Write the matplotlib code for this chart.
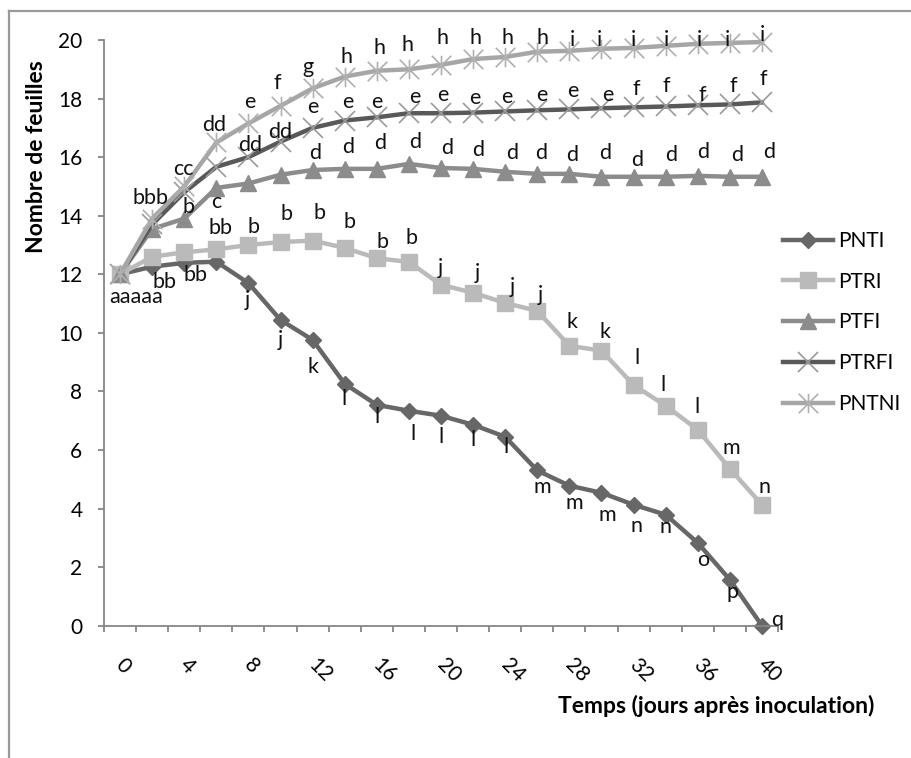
import numpy as np
import matplotlib
matplotlib.use('Agg')
import matplotlib.pyplot as plt
from matplotlib.lines import Line2D
from matplotlib.path import Path

plt.rcParams['font.family'] = ['Lato', 'DejaVu Sans']

# days after inoculation (one category every 2 days, label every 4)
days = list(range(0, 41, 2))
tick_days = days[::2]

series_names = ['PNTI', 'PTRI', 'PTFI', 'PTRFI', 'PNTNI']

pnti = [12, 12.26, 12.39, 12.43, 11.7, 10.44, 9.76, 8.26, 7.54, 7.34, 7.17,
        6.86, 6.45, 5.3, 4.78, 4.54, 4.13, 3.79, 2.83, 1.57, 0]
ptri = [12, 12.6, 12.75, 12.85, 13.0, 13.1, 13.15, 12.9, 12.55, 12.42, 11.64,
        11.37, 11.02, 10.75, 9.56, 9.39, 8.22, 7.51, 6.69, 5.36, 4.13]
ptfi = [12, 13.55, 13.9, 14.95, 15.1, 15.4, 15.56, 15.6, 15.6, 15.77, 15.63,
        15.6, 15.5, 15.43, 15.43, 15.33, 15.33, 15.33, 15.36, 15.33, 15.33]
ptrfi = [12, 13.7, 14.8, 15.67, 16.0, 16.53, 17.0, 17.25, 17.36, 17.5, 17.5,
         17.52, 17.56, 17.6, 17.63, 17.67, 17.7, 17.73, 17.77, 17.8, 17.87]
pntni = [12, 13.9, 15.0, 16.5, 17.15, 17.75, 18.35, 18.75, 18.95, 19.0, 19.15,
         19.35, 19.42, 19.6, 19.63, 19.7, 19.73, 19.8, 19.87, 19.9, 19.93]

# significance letters
pnti_letters = ['aaaaa', 'bb', 'bb', '', 'j', 'j', 'k', 'l', 'l', 'l', 'l',
                'l', 'l', 'm', 'm', 'm', 'n', 'n', 'o', 'p', 'q']
ptri_letters = ['', '', '', 'bb', 'b', 'b', 'b', 'b', 'b', 'b', 'j',
                'j', 'j', 'j', 'k', 'k', 'l', 'l', 'l', 'm', 'n']
ptfi_letters = ['', '', 'b', 'c', '', '', 'd', 'd', 'd', 'd', 'd',
                'd', 'd', 'd', 'd', 'd', 'd', 'd', 'd', 'd', 'd']
ptrfi_letters = ['', '', '', '', 'dd', 'dd', 'e', 'e', 'e', 'e', 'e',
                 'e', 'e', 'e', 'e', 'e', 'f', 'f', 'f', 'f', 'f']
pntni_letters = ['', 'bbb', 'cc', 'dd', 'e', 'f', 'g', 'h', 'h', 'h', 'h',
                 'h', 'h', 'h', 'i', 'i', 'i', 'i', 'i', 'i', 'i']

# where each letter sits relative to its point (pixels, up is +)
pnti_off = [(16, -23), (12, -15), (11, -12), (0, 0), (-1, -17), (0, -20), (0, -27),
            (-1, -15), (0, -12), (4, -23), (0, -21), (0, -15), (1, -10), (5, -17),
            (5, -17), (6, -22), (3, -21), (0, -12), (5, -17), (3, -12), (15, 6)]
ptri_off = [(0, 0), (0, 0), (0, 0), (4, 21), (5, 18), (6, 28), (7, 28), (5, 26),
            (6, 16), (3, 24), (-1, 17), (4, 20), (7, 16), (3, 16), (3, 24), (4, 19),
            (3, 27), (-3, 21), (-1, 23), (1, 21), (3, 18)]
ptfi_off = [(0, 0), (0, 0), (4, 12), (0, -14), (0, 0), (0, 0), (3, 17), (3, 22),
            (3, 26), (6, 22), (6, 20), (5, 19), (7, 19), (4, 21), (3, 19), (4, 24),
            (4, 17), (5, 22), (5, 24), (7, 22), (7, 25)]
ptrfi_off = [(0, 0), (0, 0), (0, 0), (0, 0), (2, 12), (0, 10), (0, 21), (3, 19),
             (0, 15), (6, 16), (2, 18), (2, 15), (2, 14), (5, 15), (3, 18), (6, 13),
             (3, 18), (1, 20), (4, 10), (3, 18), (1, 23)]
pntni_off = [(0, 0), (-2, 21), (-1, 17), (-2, 17), (1, 21), (-3, 23), (-5, 21),
             (2, 20), (3, 23), (-1, 24), (1, 27), (2, 21), (2, 19), (5, 14), (3, 11),
             (-2, 9), (0, 8), (1, 6), (2, 4), (-2, 3), (0, 7)]

# excel style asterisk marker
star = Path([(-0.5, -0.5), (0.5, 0.5), (-0.5, 0.5), (0.5, -0.5), (0, -0.5), (0, 0.5)],
            [Path.MOVETO, Path.LINETO] * 3)

W, H = 911, 758
fig = plt.figure(figsize=(W / 100, H / 100), dpi=100)
ax = fig.add_axes([104 / W, (H - 625.7) / H, 674 / W, (625.7 - 40) / H])

x = np.arange(len(days))
styles = [
    dict(color='#676767', marker='D', ms=8, mfc='#676767', mec='#676767'),
    dict(color='#bababa', marker='s', ms=11.5, mfc='#bababa', mec='#bababa'),
    dict(color='#8c8c8c', marker='^', ms=11.5, mfc='#8c8c8c', mec='#8c8c8c'),
    dict(color='#595959', marker='x', ms=14, mec='#9a9a9a', mew=1.2),
    dict(color='#a6a6a6', marker=star, ms=14, mfc='none', mec='#b0b0b0', mew=1.2),
]
all_vals = [pnti, ptri, ptfi, ptrfi, pntni]
all_letters = [pnti_letters, ptri_letters, ptfi_letters, ptrfi_letters, pntni_letters]
all_off = [pnti_off, ptri_off, ptfi_off, ptrfi_off, pntni_off]

handles = []
for name, vals, st in zip(series_names, all_vals, styles):
    h, = ax.plot(x, vals, lw=3.2, label=name, clip_on=False, **st)
    handles.append(h)

for vals, letters, offs in zip(all_vals, all_letters, all_off):
    for i, (v, t, (dx, dy)) in enumerate(zip(vals, letters, offs)):
        if t:
            ax.annotate(t, (i, v), xytext=(dx, dy), textcoords='offset pixels',
                        ha='center', va='center', fontsize=15.5, color='#111111')

ax.set_xlim(-0.5, len(days) - 0.5)
ax.set_ylim(0, 20)
ax.set_yticks(np.arange(0, 21, 2))
ax.set_xticks(np.arange(-0.5, len(days), 1))
ax.set_xticklabels([])
for i, d in enumerate(days):
    if d in tick_days:
        ax.annotate(str(d), (i, 0), xycoords=('data', 'axes fraction'),
                    xytext=(-1, -36), textcoords='offset pixels', rotation=-45,
                    rotation_mode='anchor', ha='left', va='center', fontsize=15)

for s in ['top', 'right']:
    ax.spines[s].set_visible(False)
for s in ['left', 'bottom']:
    ax.spines[s].set_color('#868686')
    ax.spines[s].set_linewidth(1.3)
ax.tick_params(axis='both', direction='out', length=4.5, width=1.3, color='#868686')
ax.tick_params(axis='y', pad=11, labelsize=15)

fig.text(37 / W, 1 - 157 / H, 'Nombre de feuilles', rotation=90, ha='center',
         va='center', fontsize=16.5, fontweight='bold')
fig.text(716 / W, 1 - 706 / H, 'Temps (jours après inoculation)', ha='center',
         va='center', fontsize=16.5, fontweight='bold')

fig.legend(handles, series_names, loc='center left',
           bbox_to_anchor=(783 / W, 1 - 322.5 / H), frameon=False, fontsize=15,
           borderpad=0, borderaxespad=0, handlelength=2.4, handletextpad=0.25,
           labelspacing=1.0)

# chart area border (only top and left are inside the picture)
fig.add_artist(Line2D([9 / W, 9 / W], [0, 1 - 11 / H], transform=fig.transFigure,
                      color='#9a9a9a', lw=1.6))
fig.add_artist(Line2D([9 / W, 1], [1 - 11 / H, 1 - 11 / H], transform=fig.transFigure,
                      color='#9a9a9a', lw=1.6))

fig.savefig('out.png', dpi=100)
